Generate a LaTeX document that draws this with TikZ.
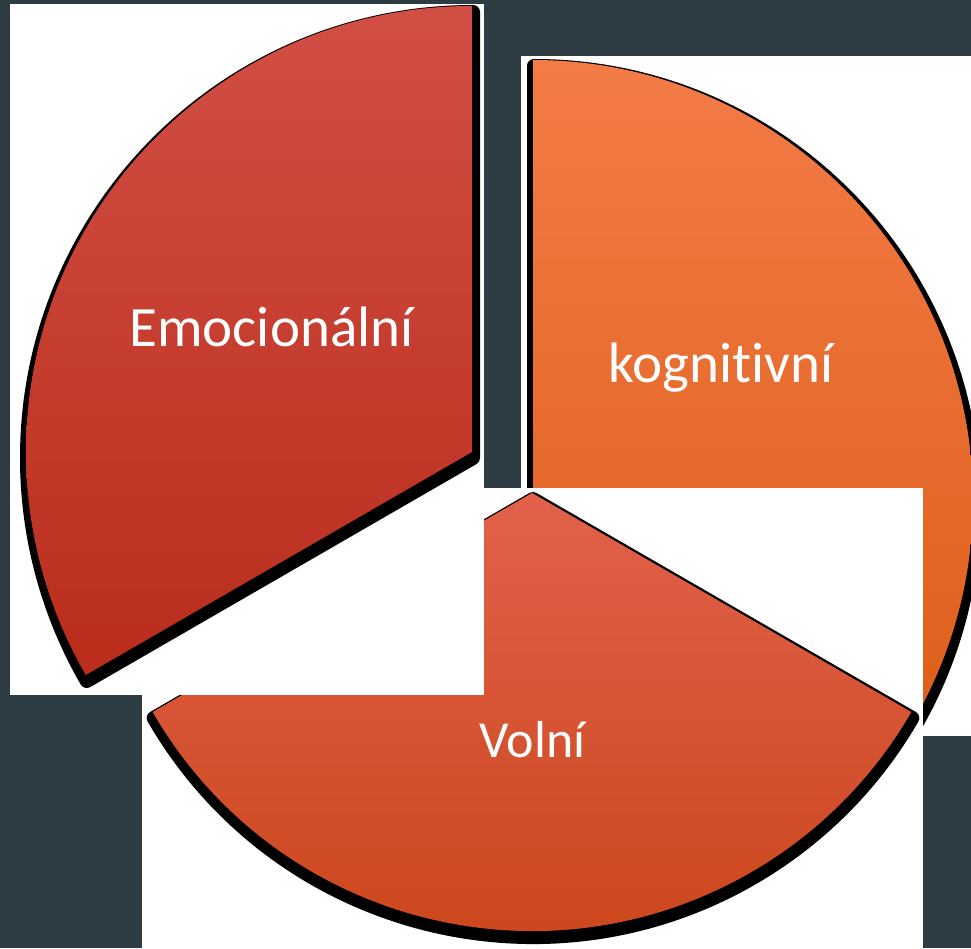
\documentclass[tikz,border=0pt]{standalone}
\usepackage{fontspec}
\setmainfont{Carlito}[Ligatures=NoCommon]
\usepackage{xcolor}
\definecolor{Slate}{HTML}{2D3B42}
\definecolor{EmoTop}{HTML}{D24F45}
\definecolor{EmoBot}{HTML}{BA2D1B}
\definecolor{KogTop}{HTML}{F37B46}
\definecolor{KogBot}{HTML}{DE5F1B}
\definecolor{VolTop}{HTML}{E1614B}
\definecolor{VolBot}{HTML}{CA4417}
\tikzset{
  picbox/.style={fill=white},
  sliceshadow/.style={fill=black, draw=black, line width=14pt, line join=round, shift={(1,-6)}},
  emofill/.style={top color=EmoTop, bottom color=EmoBot},
  kogfill/.style={top color=KogTop, bottom color=KogBot},
  volfill/.style={top color=VolTop, bottom color=VolBot},
  slicetext/.style={text=white, anchor=base, font=\fontsize{57}{60}\selectfont},
}
\newcommand\emoslice{(472,496) -- ++(90:446) arc[start angle=90, end angle=210, radius=446] -- cycle}
\newcommand\kogslice{(533,448) -- ++(90:440) arc[start angle=90, end angle=-30, radius=440] -- cycle}
\newcommand\volslice{(532,455) -- ++(210:438) arc[start angle=210, end angle=330, radius=438] -- cycle}

\begin{document}
\begin{tikzpicture}[x=1pt, y=1pt]
  \useasboundingbox (0,0) rectangle (971,948);
  \fill[Slate] (0,0) rectangle (971,948);
  % kognitivni (lowest layer)
  \begin{scope}
    \clip (521,892) rectangle (975,212);
    \fill[picbox] (521,892) rectangle (975,212);
    \path[sliceshadow] \kogslice;
    \path[kogfill] \kogslice;
  \end{scope}
  % volni
  \begin{scope}
    \clip (142,460) rectangle (923,-5);
    \fill[picbox] (142,460) rectangle (923,-5);
    \path[sliceshadow] \volslice;
    \path[volfill] \volslice;
  \end{scope}
  % emocionalni (top layer)
  \begin{scope}
    \clip (10,944) rectangle (484,253);
    \fill[picbox] (10,944) rectangle (484,253);
    \path[sliceshadow] \emoslice;
    \path[emofill] \emoslice;
  \end{scope}
  \node[slicetext] (emo) at (271.5,601) {Emocionální};
  \node[slicetext] (kog) at (721,565) {kognitivní};
  \node[slicetext, font=\fontsize{52}{56}\selectfont] (vol) at (532.5,191) {Volní};
\end{tikzpicture}
\end{document}
